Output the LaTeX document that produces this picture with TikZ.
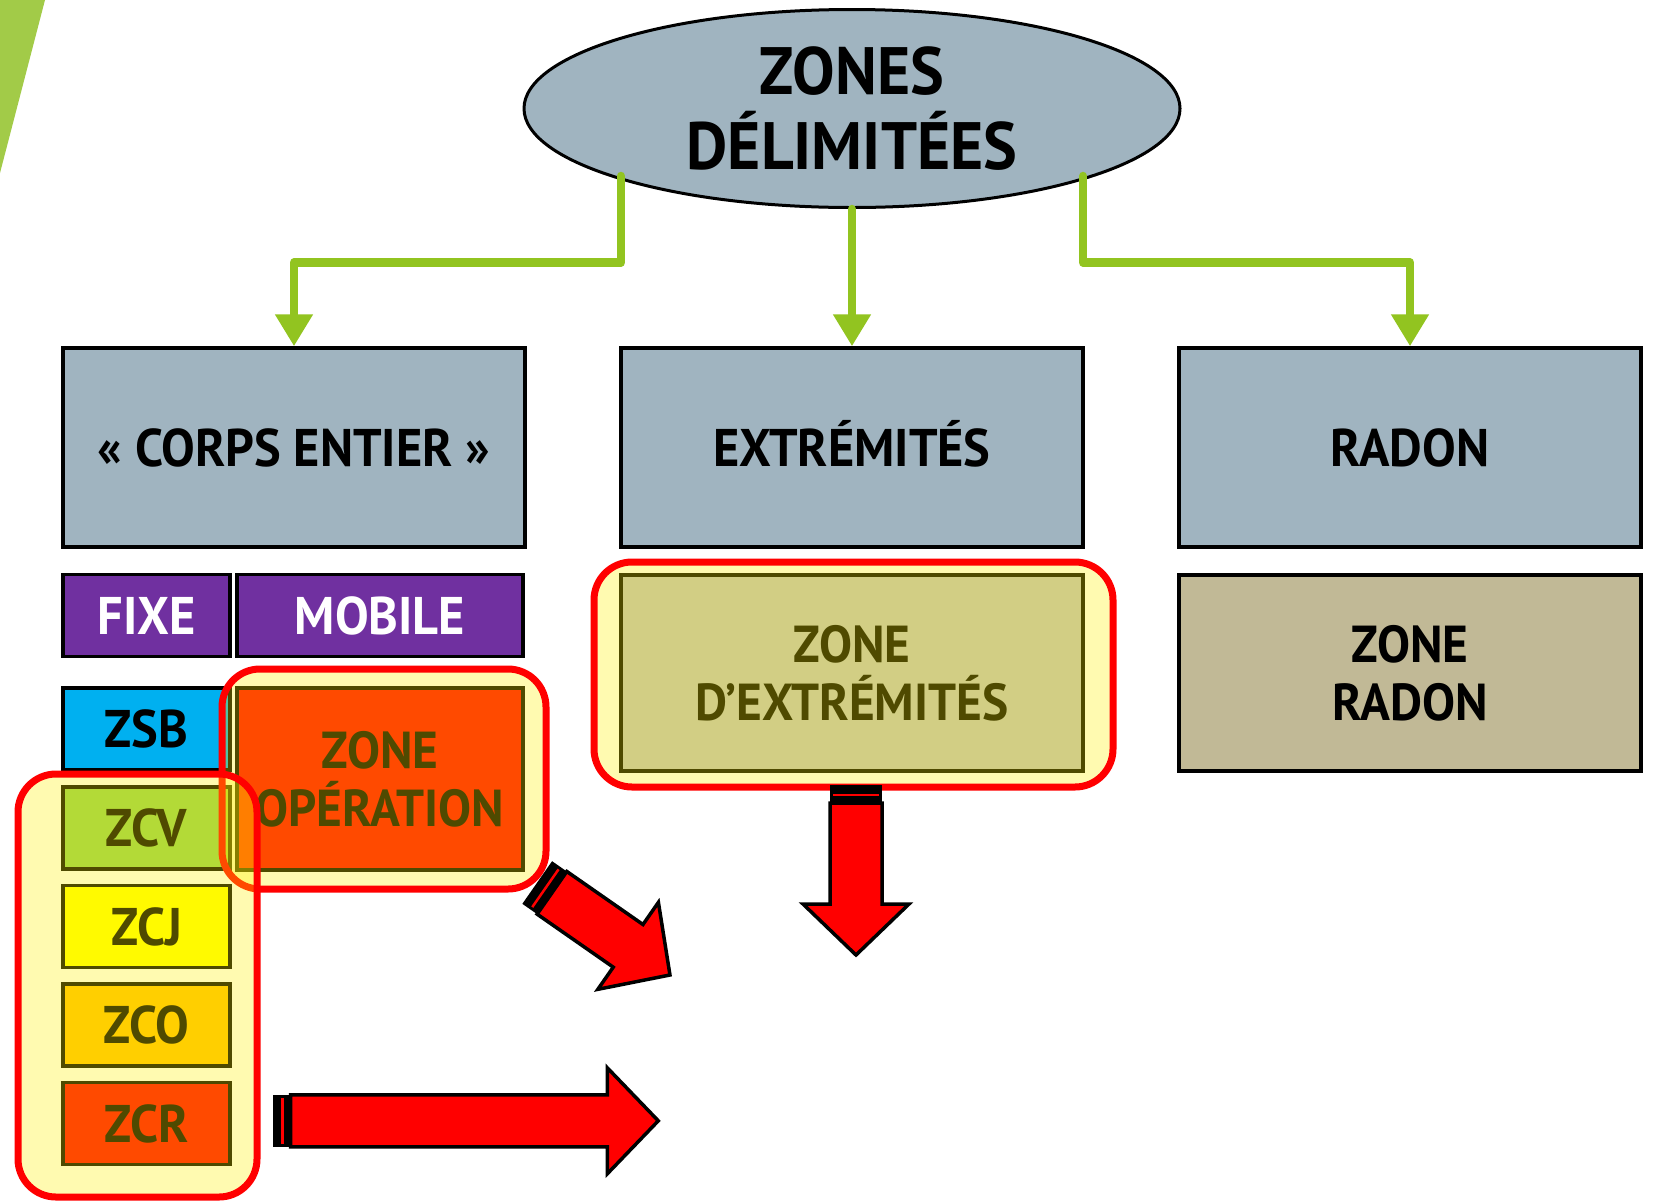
\documentclass[tikz,border=0pt]{standalone}
\usepackage{fontspec}
\setmainfont{PT Sans}[FakeStretch=0.95]
\usetikzlibrary{shapes.geometric,arrows.meta}
\definecolor{hdrblue}{HTML}{A0B4C0}
\definecolor{violet}{HTML}{7030A0}
\definecolor{zsbcyan}{HTML}{00B0F0}
\definecolor{zcvgreen}{HTML}{92D050}
\definecolor{zcjyellow}{HTML}{FFFF00}
\definecolor{zcoorange}{HTML}{FFC000}
\definecolor{pured}{HTML}{FF0000}
\definecolor{zextgray}{HTML}{BEBEC0}
\definecolor{radontan}{HTML}{C1B996}
\definecolor{lime}{HTML}{92C420}
\definecolor{limelight}{HTML}{A2CB48}
\newcommand\stripearrow[1]{%
  \fill[black] (0,-26) rectangle (18,26);
  \draw[pured, line width=2.5] (10,-23) -- (10,23);
  \draw[arrowbody] (18,-26) -- (#1-51,-26) -- (#1-51,-53) -- (#1,0) -- (#1-51,53) -- (#1-51,26) -- (18,26) -- cycle;
}
\begin{document}
\begin{tikzpicture}[x=1pt,y=-1pt,
  box/.style={rectangle, draw=black, line width=3.5, inner sep=0, align=center,
    font=\bfseries\fontsize{53}{58}\selectfont, text height=37, text depth=0},
  twoline/.style={font=\bfseries\fontsize{52}{58}\selectfont, text height=94.4, text depth=0},
  hdr/.style={box, fill=hdrblue, minimum width=462, minimum height=199},
  small/.style={box, minimum width=167, minimum height=82},
  overlay/.style={rounded corners=38, draw=pured, line width=7, fill=yellow, fill opacity=0.31, draw opacity=1},
  conn/.style={draw=lime, line width=8.5, line join=round, line cap=round, -{Triangle[width=36pt,length=32pt]}},
  arrowbody/.style={fill=pured, draw=black, line width=3.5, line join=miter}]
\useasboundingbox (0,0) rectangle (1653,1203);
\fill[white] (0,0) rectangle (1653,1203);
\fill[limelight] (0,0) -- (45,0) -- (0,173) -- cycle;

% top ellipse
\node[ellipse, draw=black, line width=3, fill=hdrblue, minimum width=656, minimum height=198, inner sep=0,
  align=center, font=\bfseries\fontsize{67}{74.5}\selectfont, text height=121.5, text depth=0]
  (ell) at (852,108.5) {ZONES\\DÉLIMITÉES};

% header boxes
\node[hdr] (corps) at (294,447.5) {«~CORPS ENTIER~»};
\node[hdr] (extr) at (852,447.5) {EXTRÉMITÉS};
\node[hdr] (radon) at (1410,447.5) {RADON};

% second row
\node[small, fill=violet, text=white] (fixe) at (146.5,615.5) {FIXE};
\node[box, fill=violet, text=white, minimum width=286, minimum height=82] (mobile) at (380,615.5) {MOBILE};
\node[small, fill=zsbcyan] (zsb) at (146.5,729) {ZSB};
\node[box, twoline, fill=pured, minimum width=286, minimum height=182] (zop) at (380,779) {ZONE\\OPÉRATION};
\node[small, fill=zcvgreen] (zcv) at (146.5,828) {ZCV};
\node[small, fill=zcjyellow] (zcj) at (146.5,926.5) {ZCJ};
\node[small, fill=zcoorange] (zco) at (146.5,1025) {ZCO};
\node[small, fill=pured] (zcr) at (146.5,1123.5) {ZCR};
\node[box, twoline, fill=zextgray, minimum width=462, minimum height=196] (zext) at (852,673) {ZONE\\D’EXTRÉMITÉS};
\node[box, twoline, fill=radontan, minimum width=462, minimum height=196] (zradon) at (1410,673) {ZONE\\RADON};

% highlight overlays
\draw[overlay] (222,669) rectangle (546,889);
\draw[overlay] (18,774) rectangle (257,1197);
\draw[overlay] (594,562) rectangle (1113,787);

% green connectors
\coordinate (l0) at (621,176);
\coordinate (r0) at (1083,176);
\draw[conn] (l0) -- (621,262.5) -| (corps.north);
\draw[conn] (ell.south) -- (extr.north);
\draw[conn] (r0) -- (1083,262.5) -| (radon.north);

% red striped arrows
\begin{scope}[shift={(537.2,882.5)}, rotate=-34.86]
  \stripearrow{161.8}
\end{scope}
\begin{scope}[shift={(856,785)}, rotate=-90]
  \stripearrow{170}
\end{scope}
\begin{scope}[shift={(272.7,1120.8)}]
  \stripearrow{385.6}
\end{scope}
\end{tikzpicture}
\end{document}
